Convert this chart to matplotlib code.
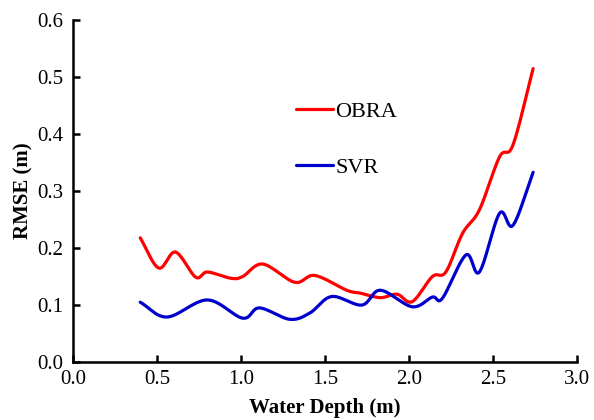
import numpy as np
import matplotlib
matplotlib.use("Agg")
import matplotlib.pyplot as plt

# RMSE by water depth for the two retrieval models
obra_depth = [0.40, 0.51, 0.61, 0.73, 0.80, 0.94, 1.01, 1.13, 1.32, 1.44, 1.63, 1.71,
              1.83, 1.93, 2.02, 2.14, 2.22, 2.32, 2.42, 2.54, 2.62, 2.74]
obra_rmse = [0.218, 0.165, 0.193, 0.149, 0.158, 0.147, 0.150, 0.172, 0.140, 0.152, 0.126, 0.121,
             0.113, 0.119, 0.106, 0.150, 0.158, 0.226, 0.267, 0.360, 0.381, 0.515]

svr_depth = [0.40, 0.56, 0.80, 1.01, 1.11, 1.29, 1.41, 1.54, 1.72, 1.83, 2.02, 2.14,
             2.20, 2.34, 2.42, 2.54, 2.62, 2.74]
svr_rmse = [0.105, 0.079, 0.109, 0.077, 0.095, 0.075, 0.086, 0.115, 0.100, 0.126, 0.097, 0.114,
            0.112, 0.188, 0.158, 0.261, 0.240, 0.333]

x_ticks = [0.0, 0.5, 1.0, 1.5, 2.0, 2.5, 3.0]
y_ticks = [0.0, 0.1, 0.2, 0.3, 0.4, 0.5, 0.6]


def smooth(xs, ys, n=30):
    """Catmull-Rom curve through the given points."""
    x = np.asarray(xs, float)
    y = np.asarray(ys, float)
    px = np.concatenate([[2 * x[0] - x[1]], x, [2 * x[-1] - x[-2]]])
    py = np.concatenate([[2 * y[0] - y[1]], y, [2 * y[-1] - y[-2]]])
    outx, outy = [], []
    t = np.linspace(0, 1, n, endpoint=False)
    for i in range(1, len(px) - 2):
        for arr, out in ((px, outx), (py, outy)):
            p0, p1, p2, p3 = arr[i - 1], arr[i], arr[i + 1], arr[i + 2]
            out.extend(0.5 * ((2 * p1) + (-p0 + p2) * t
                              + (2 * p0 - 5 * p1 + 4 * p2 - p3) * t ** 2
                              + (-p0 + 3 * p1 - 3 * p2 + p3) * t ** 3))
    outx.append(x[-1])
    outy.append(y[-1])
    return np.array(outx), np.array(outy)


plt.rcParams["font.family"] = ["Liberation Serif", "DejaVu Serif"]

fig = plt.figure(figsize=(5.94, 4.2), dpi=100)
ax = fig.add_axes([0.123, 0.138, 0.848, 0.814])

sx, sy = smooth(obra_depth, obra_rmse)
ax.plot(sx, sy, color="#ff0000", lw=2.3, label="OBRA", solid_capstyle="round")
sx, sy = smooth(svr_depth, svr_rmse)
ax.plot(sx, sy, color="#0000cc", lw=2.3, label="SVR", solid_capstyle="round")

ax.set_xlim(0, 3.0)
ax.set_ylim(0, 0.6)
ax.set_xticks(x_ticks)
ax.set_yticks(y_ticks)
ax.set_xticklabels([f"{v:.1f}" for v in x_ticks])
ax.set_yticklabels([f"{v:.1f}" for v in y_ticks])
ax.tick_params(direction="in", length=5, width=1.8, labelsize=15)
ax.tick_params(axis="x", pad=6)
ax.tick_params(axis="y", pad=7)

for side in ("top", "right"):
    ax.spines[side].set_visible(False)
for side in ("left", "bottom"):
    ax.spines[side].set_linewidth(1.8)

ax.set_xlabel("Water Depth (m)", fontsize=15, fontweight="bold", labelpad=6)
ax.set_ylabel("RMSE (m)", fontsize=15, fontweight="bold", labelpad=3)

ax.legend(loc="upper left", bbox_to_anchor=(0.442, 0.762), frameon=False,
          fontsize=16, handlelength=1.67, handletextpad=0.1, labelspacing=1.6,
          borderpad=0, borderaxespad=0)

fig.savefig("out.png", dpi=100)
